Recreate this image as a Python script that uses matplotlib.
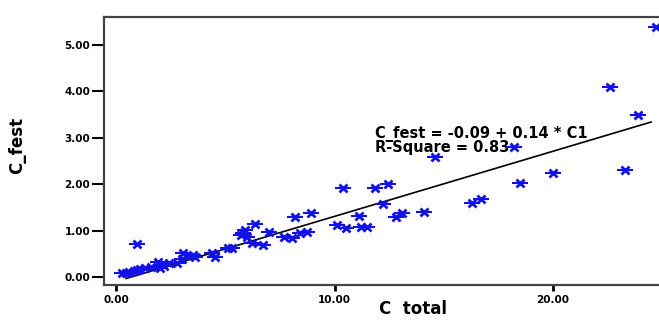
import matplotlib
matplotlib.use("Agg")
import matplotlib.pyplot as plt
import numpy as np

# scatter values
c_total = [0.28, 0.45, 0.6, 0.8, 0.93, 1.1, 1.3, 1.6, 1.9, 2.0, 2.2, 2.4, 2.8,
           3.0, 3.05, 3.5, 3.6, 4.4, 4.5, 5.1, 5.3, 0.93, 5.7, 5.8, 5.9, 6.0,
           6.2, 6.35, 6.7, 7.0, 7.7, 8.05, 8.2, 8.4, 8.75, 8.9, 10.1, 10.4,
           10.5, 11.1, 11.2, 11.5, 11.85, 12.2, 12.45, 12.8, 13.1, 14.1, 14.6,
           16.3, 16.7, 18.2, 18.5, 20.0, 22.6, 23.3, 23.9, 24.7]
c_fest = [0.09, 0.10, 0.11, 0.13, 0.15, 0.17, 0.19, 0.22, 0.32, 0.19, 0.24,
          0.30, 0.30, 0.39, 0.52, 0.47, 0.43, 0.52, 0.43, 0.63, 0.63, 0.71,
          0.90, 0.95, 1.01, 0.86, 0.73, 1.14, 0.69, 0.97, 0.86, 0.84, 1.29,
          0.95, 0.97, 1.38, 1.12, 1.92, 1.06, 1.31, 1.08, 1.08, 1.92, 1.57,
          2.00, 1.29, 1.38, 1.40, 2.59, 1.60, 1.68, 2.80, 2.03, 2.24, 4.09,
          2.31, 3.49, 5.39]

intercept = -0.09
slope = 0.14
fit_range = [0.45, 24.5]

y_ticks = [0, 1, 2, 3, 4, 5]
y_labels = ["0.00", "1.00", "2.00", "3.00", "4.00", "5.00"]
x_ticks = [0, 10, 20]
x_labels = ["0.00", "10.00", "20.00"]

fig = plt.figure(figsize=(6.59, 3.2), dpi=100)
ax = fig.add_axes([0.158, 0.109, 0.85, 0.838])

xs = np.linspace(fit_range[0], fit_range[1], 60)
ax.plot(xs, intercept + slope * xs, color="black", lw=1.2, zorder=2)

ax.plot(c_total, c_fest, ls="none", marker="x", ms=6, mew=2,
        color="#1212e6", zorder=3)
ax.plot(c_total, c_fest, ls="none", marker="_", ms=12, mew=1.5,
        color="#1212e6", zorder=3)

ax.set_xlim(-0.56, 25.1)
ax.set_ylim(-0.17, 5.6)

ax.set_yticks(y_ticks)
ax.set_yticklabels(y_labels, fontsize=7.5, fontweight="bold")
ax.set_xticks(x_ticks)
ax.set_xticklabels(x_labels, fontsize=7.5, fontweight="bold")
ax.tick_params(axis="y", length=9, width=1.5, pad=1)
ax.tick_params(axis="x", length=4, width=2, pad=3)

for side in ["left", "top", "bottom"]:
    ax.spines[side].set_color("#444444")
    ax.spines[side].set_linewidth(1.6)
ax.spines["right"].set_visible(False)

fig.text(17 / 659, 1 - 145 / 320, "C_fest", fontsize=12, fontweight="bold",
         rotation=90, ha="center", va="center")
fig.text(413 / 659, 1 - 309 / 320, "C  total", fontsize=12, fontweight="bold",
         ha="center", va="center")

# fit equation, two tight lines like the original
ax.text(11.85, 2.95, "C_fest = -0.09 + 0.14 * C1\nR-Square = 0.83",
        fontsize=10.5, fontweight="bold", va="center", linespacing=0.85,
        zorder=1)

fig.savefig("out.png", dpi=100)
